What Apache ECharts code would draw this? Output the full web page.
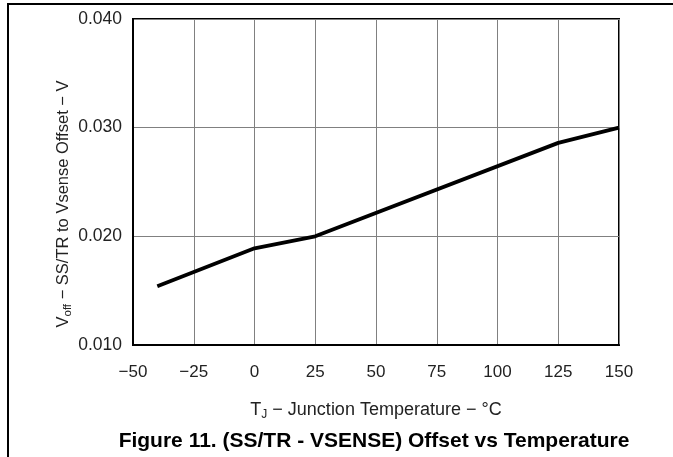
<!DOCTYPE html>
<html>
<head>
<meta charset="utf-8">
<style>
  html, body { margin: 0; padding: 0; background: #fff; }
  #chart { width: 673px; height: 457px; }
</style>
<script src="https://cdn.jsdelivr.net/npm/echarts@6/dist/echarts.min.js"></script>
</head>
<body>
<div id="chart"></div>
<script>
// Data
const temperatures = [-40, 0, 25, 125, 150];                    // T_J (°C)
const offsetVolts  = [0.0154, 0.0189, 0.0200, 0.0286, 0.0300];   // V_off (V)
const xTicks = [-50, -25, 0, 25, 50, 75, 100, 125, 150];
const yTicks = [0.010, 0.020, 0.030, 0.040];
const xTitle = 'T{sub|J} − Junction Temperature − °C';
const yTitle = 'V{sub|off} − SS/TR to Vsense Offset − V';
const figTitle = 'Figure 11. (SS/TR - VSENSE) Offset vs Temperature';

const FONT = '"Liberation Sans", Arial, sans-serif';
const chart = echarts.init(document.getElementById('chart'), null, { renderer: 'canvas' });

const seriesData = temperatures.map((t, i) => [t, offsetVolts[i]]);

chart.setOption({
  animation: false,
  backgroundColor: '#fff',
  grid: {
    left: 133, right: 54, top: 19, bottom: 112,
    show: true, borderColor: '#000', borderWidth: 2, backgroundColor: 'transparent'
  },
  xAxis: {
    type: 'value',
    min: xTicks[0], max: xTicks[xTicks.length - 1], interval: 25,
    axisLine: { show: true, onZero: false, lineStyle: { color: '#000', width: 2 } },
    axisTick: { show: false },
    splitLine: { show: true, lineStyle: { color: '#808080', width: 1 } },
    axisLabel: {
      margin: 19, fontFamily: FONT, fontSize: 17, color: '#222',
      formatter: v => String(v).replace('-', '−')
    }
  },
  yAxis: {
    type: 'value',
    min: yTicks[0], max: yTicks[yTicks.length - 1], interval: 0.01,
    axisLine: { show: true, onZero: false, lineStyle: { color: '#000', width: 2 } },
    axisTick: { show: false },
    splitLine: { show: true, lineStyle: { color: '#808080', width: 1 } },
    axisLabel: {
      margin: 11, fontFamily: FONT, fontSize: 17.5, color: '#222',
      formatter: v => v.toFixed(3)
    }
  },
  series: [{
    type: 'line',
    data: seriesData,
    showSymbol: false,
    lineStyle: { color: '#000', width: 3.8 },
    z: 5
  }],
  graphic: [
    { type: 'line', shape: { x1: 7, y1: 4, x2: 673, y2: 4 }, style: { stroke: '#000', lineWidth: 2 } },
    { type: 'line', shape: { x1: 8, y1: 4, x2: 8, y2: 457 }, style: { stroke: '#000', lineWidth: 2 } },
    {
      type: 'text', x: 374, y: 441,
      style: {
        text: figTitle, fontFamily: FONT, fontSize: 21, fontWeight: 'bold', fill: '#000',
        align: 'center', verticalAlign: 'middle'
      }
    },
    {
      type: 'text', x: 376, y: 410,
      style: {
        text: xTitle, fontFamily: FONT, fontSize: 18, fill: '#222',
        align: 'center', verticalAlign: 'middle',
        rich: { sub: { fontFamily: FONT, fontSize: 12, fill: '#222', padding: [9, 0, 0, 0] } }
      }
    },
    {
      type: 'text', x: 63, y: 204, rotation: Math.PI / 2,
      style: {
        text: yTitle, fontFamily: FONT, fontSize: 16.5, fill: '#222',
        align: 'center', verticalAlign: 'middle',
        rich: { sub: { fontFamily: FONT, fontSize: 11.5, fill: '#222', padding: [9, 0, 0, 0] } }
      }
    }
  ]
});
</script>
</body>
</html>
